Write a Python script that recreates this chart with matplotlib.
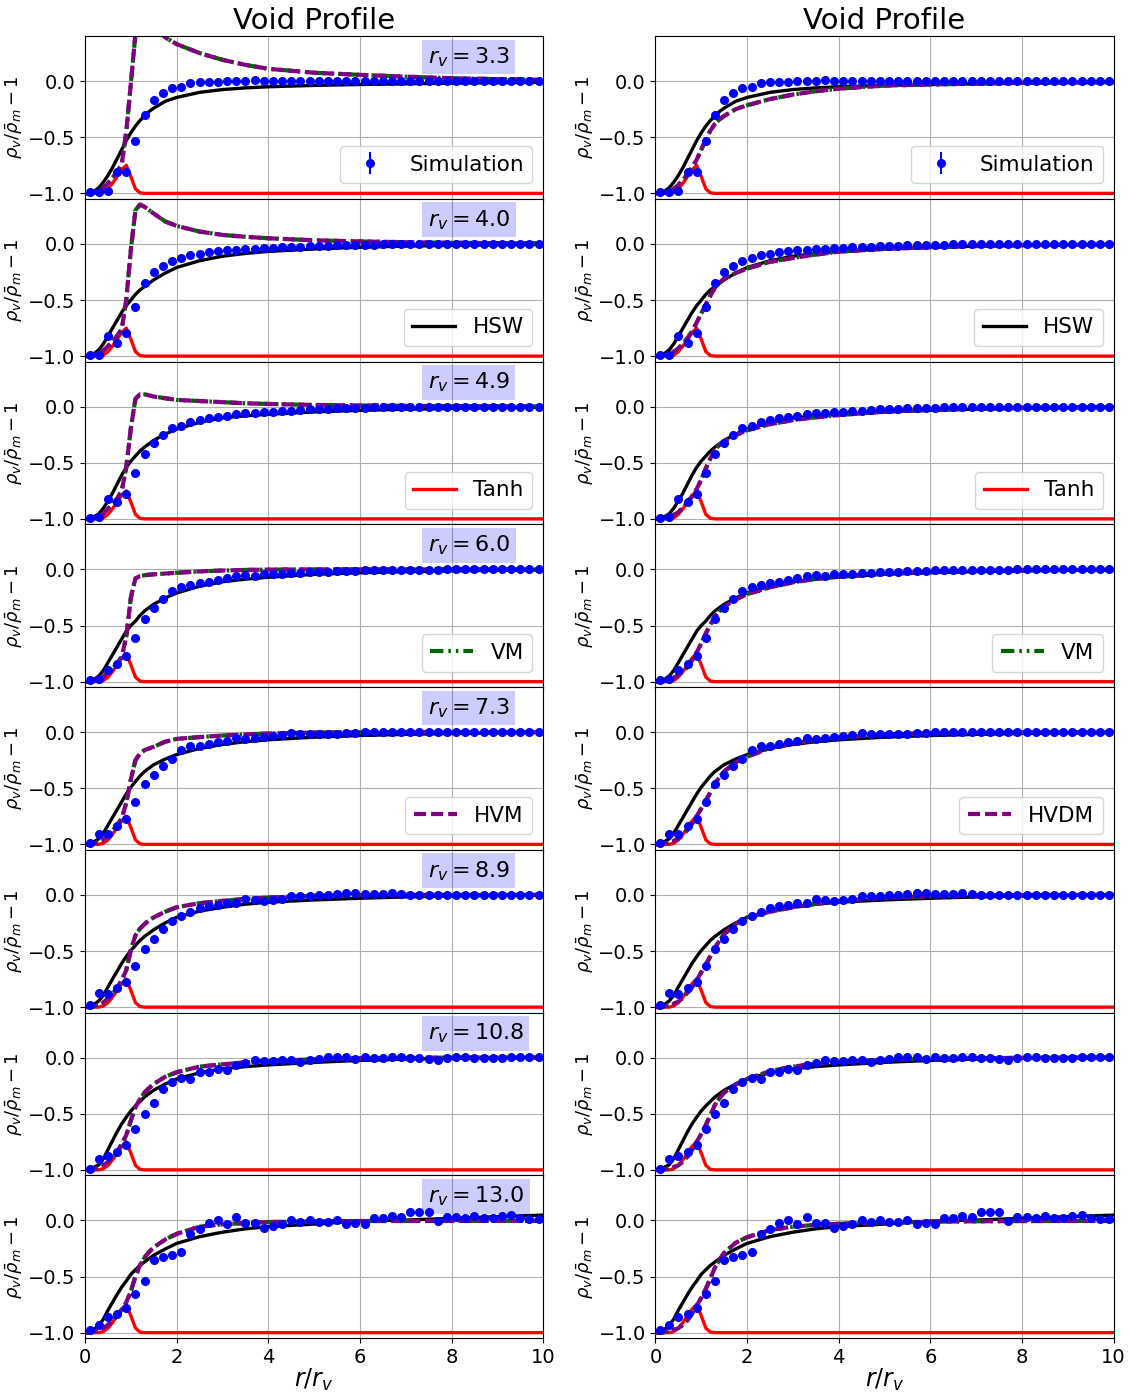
import matplotlib
matplotlib.use("Agg")
import matplotlib.pyplot as plt

# void radii, one per row
rv_values = [3.3, 4.0, 4.9, 6.0, 7.3, 8.9, 10.8, 13.0]

# radial bins of the simulation stack
r_sim = [0.1, 0.3, 0.5, 0.7, 0.9, 1.1, 1.3, 1.5, 1.7, 1.9,
         2.1, 2.3, 2.5, 2.7, 2.9, 3.1, 3.3, 3.5, 3.7, 3.9,
         4.1, 4.3, 4.5, 4.7, 4.9, 5.1, 5.3, 5.5, 5.7, 5.9,
         6.1, 6.3, 6.5, 6.7, 6.9, 7.1, 7.3, 7.5, 7.7, 7.9,
         8.1, 8.3, 8.5, 8.7, 8.9, 9.1, 9.3, 9.5, 9.7, 9.9]

# simulation density contrast, one list per void radius
sim_delta = [
    [-0.99, -0.985, -0.98, -0.81, -0.81, -0.53, -0.30, -0.17, -0.11, -0.065,
     -0.053, -0.02, -0.012, -0.01, -0.005, 0.0, 0.003, 0.005, 0.01, 0.003,
     0.0, 0.002, 0.0, 0.001, 0.0, 0.0, 0.001, 0.0, 0.0, 0.0,
     0.001, 0.0, 0.0, 0.0, 0.001, 0.0, 0.0, 0.001, 0.0, 0.0,
     0.0, 0.001, 0.0, 0.0, 0.0, 0.001, 0.0, 0.0, 0.0, 0.0],
    [-0.99, -0.99, -0.82, -0.88, -0.79, -0.56, -0.35, -0.25, -0.20, -0.156,
     -0.126, -0.10, -0.088, -0.074, -0.065, -0.056, -0.05, -0.044, -0.044, -0.04,
     -0.035, -0.03, -0.03, -0.025, -0.02, -0.018, -0.015, -0.013, -0.011, -0.009,
     -0.008, -0.006, -0.005, -0.004, -0.004, -0.003, -0.003, -0.002, -0.002, -0.002,
     -0.001, -0.001, -0.001, 0.0, 0.0, 0.0, 0.0, 0.0, 0.0, 0.0],
    [-0.99, -0.985, -0.82, -0.85, -0.78, -0.59, -0.42, -0.32, -0.25, -0.19,
     -0.17, -0.14, -0.12, -0.10, -0.09, -0.08, -0.07, -0.056, -0.056, -0.047,
     -0.044, -0.035, -0.035, -0.03, -0.02, -0.02, -0.017, -0.015, -0.012, -0.01,
     -0.008, -0.007, -0.006, -0.005, -0.004, -0.003, -0.003, -0.002, -0.002, -0.001,
     -0.001, 0.0, 0.0, 0.0, 0.0, 0.0, 0.0, 0.001, 0.0, 0.0],
    [-0.985, -0.98, -0.90, -0.84, -0.77, -0.61, -0.44, -0.34, -0.26, -0.19,
     -0.16, -0.14, -0.12, -0.11, -0.094, -0.08, -0.062, -0.05, -0.062, -0.044,
     -0.038, -0.038, -0.03, -0.03, -0.026, -0.022, -0.02, -0.015, -0.012, -0.01,
     -0.008, -0.006, -0.005, -0.004, -0.003, -0.002, -0.002, -0.001, -0.001, 0.0,
     0.0, 0.0, 0.0, 0.001, 0.0, 0.0, 0.0, 0.0, 0.001, 0.0],
    [-0.99, -0.91, -0.91, -0.84, -0.77, -0.62, -0.46, -0.38, -0.30, -0.235,
     -0.16, -0.12, -0.12, -0.106, -0.09, -0.08, -0.056, -0.06, -0.05, -0.044,
     -0.035, -0.026, -0.012, -0.018, -0.018, -0.015, -0.02, -0.015, -0.01, -0.005,
     -0.003, 0.0, 0.002, 0.0, 0.0, 0.003, 0.0, 0.002, 0.003, 0.0,
     0.0, 0.002, 0.0, 0.001, 0.0, 0.0, 0.002, 0.001, 0.0, 0.001],
    [-0.985, -0.876, -0.88, -0.83, -0.78, -0.63, -0.485, -0.39, -0.30, -0.235,
     -0.19, -0.15, -0.12, -0.10, -0.09, -0.076, -0.07, -0.04, -0.047, -0.053,
     -0.047, -0.04, -0.01, -0.01, -0.01, -0.005, 0.0, 0.01, 0.015, 0.015,
     0.01, 0.005, 0.01, 0.015, 0.005, 0.0, -0.005, -0.005, 0.0, 0.0,
     -0.002, -0.003, 0.0, -0.002, -0.003, -0.002, -0.003, -0.003, -0.005, -0.004],
    [-0.99, -0.906, -0.876, -0.84, -0.78, -0.64, -0.50, -0.40, -0.28, -0.22,
     -0.185, -0.19, -0.13, -0.126, -0.10, -0.11, -0.065, -0.044, -0.018, -0.03,
     -0.03, -0.018, -0.024, -0.035, -0.018, -0.01, 0.005, 0.01, 0.005, -0.01,
     0.01, 0.0, 0.0, 0.003, 0.005, 0.0, 0.0, -0.01, -0.018, -0.005,
     0.005, 0.003, 0.0, 0.0, -0.005, -0.005, 0.003, 0.005, 0.003, 0.003],
    [-0.976, -0.93, -0.864, -0.838, -0.78, -0.655, -0.54, -0.357, -0.33, -0.31,
     -0.283, -0.12, -0.074, -0.02, 0.003, -0.035, 0.03, -0.02, -0.027, -0.065,
     -0.053, -0.032, 0.003, -0.018, 0.003, -0.015, -0.012, 0.003, -0.036, -0.024,
     -0.033, 0.018, 0.018, 0.04, 0.027, 0.074, 0.071, 0.074, -0.003, 0.033,
     0.027, 0.02, 0.036, 0.024, 0.02, 0.039, 0.047, 0.02, 0.012, 0.009],
]

# radii at which the model curves were read
r_model = [0.0, 0.1, 0.2, 0.3, 0.4, 0.5, 0.6, 0.7, 0.8, 0.9, 1.0, 1.1, 1.2, 1.3,
           1.4, 1.5, 1.75, 2.0, 2.5, 3.0, 3.5, 4.0, 5.0, 6.0, 7.0, 8.0, 9.0, 10.0]

hsw_delta = [
    [-1, -0.995, -0.98, -0.95, -0.90, -0.84, -0.77, -0.69, -0.61, -0.53, -0.46, -0.40, -0.35, -0.31,
     -0.27, -0.24, -0.18, -0.145, -0.10, -0.075, -0.06, -0.05, -0.038, -0.03, -0.024, -0.018, -0.014, -0.01],
    [-1, -0.99, -0.975, -0.945, -0.89, -0.82, -0.75, -0.68, -0.61, -0.55, -0.50, -0.45, -0.41, -0.38,
     -0.35, -0.32, -0.26, -0.21, -0.15, -0.11, -0.085, -0.067, -0.045, -0.03, -0.02, -0.013, -0.008, -0.005],
    [-1, -0.995, -0.98, -0.955, -0.905, -0.84, -0.77, -0.69, -0.61, -0.54, -0.485, -0.44, -0.395, -0.36,
     -0.33, -0.30, -0.245, -0.20, -0.14, -0.10, -0.082, -0.068, -0.047, -0.033, -0.023, -0.016, -0.01, -0.006],
    [-1, -0.995, -0.98, -0.95, -0.90, -0.83, -0.76, -0.69, -0.62, -0.55, -0.50, -0.46, -0.41, -0.37,
     -0.34, -0.31, -0.255, -0.21, -0.15, -0.11, -0.087, -0.07, -0.044, -0.03, -0.02, -0.013, -0.008, -0.005],
    [-1, -0.99, -0.975, -0.95, -0.90, -0.83, -0.76, -0.69, -0.62, -0.55, -0.49, -0.44, -0.39, -0.35,
     -0.32, -0.29, -0.24, -0.20, -0.145, -0.11, -0.085, -0.068, -0.045, -0.03, -0.02, -0.012, -0.007, -0.003],
    [-1, -0.99, -0.975, -0.945, -0.895, -0.82, -0.75, -0.68, -0.61, -0.55, -0.495, -0.45, -0.405, -0.37,
     -0.34, -0.31, -0.25, -0.20, -0.145, -0.11, -0.083, -0.065, -0.045, -0.03, -0.018, -0.01, -0.005, 0.0],
    [-1, -0.99, -0.975, -0.955, -0.90, -0.82, -0.74, -0.66, -0.59, -0.53, -0.475, -0.43, -0.39, -0.35,
     -0.32, -0.29, -0.235, -0.19, -0.135, -0.10, -0.08, -0.065, -0.042, -0.025, -0.013, -0.005, 0.0, 0.003],
    [-1, -0.99, -0.97, -0.935, -0.88, -0.80, -0.73, -0.66, -0.595, -0.54, -0.48, -0.44, -0.40, -0.37,
     -0.34, -0.31, -0.255, -0.205, -0.145, -0.105, -0.075, -0.056, -0.033, -0.006, 0.003, 0.018, 0.033, 0.047],
]

tanh_delta = [-1, -1, -1, -1, -0.99, -0.96, -0.91, -0.85, -0.79, -0.75, -0.85, -0.96, -0.995, -1,
              -1, -1, -1, -1, -1, -1, -1, -1, -1, -1, -1, -1, -1, -1]

# VM / HVM curves, left column (with shell spike)
vm_left = [
    [-1, -1, -0.99, -0.975, -0.95, -0.91, -0.86, -0.81, -0.74, -0.45, -0.02, 0.42, 0.66, 0.62,
     0.56, 0.50, 0.39, 0.33, 0.25, 0.19, 0.145, 0.11, 0.075, 0.056, 0.04, 0.026, 0.018, 0.012],
    [-1, -1, -0.99, -0.975, -0.95, -0.91, -0.87, -0.82, -0.76, -0.50, -0.05, 0.30, 0.35, 0.33,
     0.30, 0.27, 0.20, 0.16, 0.11, 0.08, 0.063, 0.05, 0.032, 0.022, 0.015, 0.01, 0.007, 0.005],
    [-1, -1, -0.99, -0.98, -0.95, -0.91, -0.87, -0.82, -0.75, -0.54, -0.19, 0.07, 0.11, 0.11,
     0.10, 0.09, 0.075, 0.06, 0.05, 0.04, 0.03, 0.024, 0.015, 0.01, 0.007, 0.005, 0.003, 0.002],
    [-1, -1, -0.99, -0.98, -0.955, -0.915, -0.88, -0.84, -0.78, -0.60, -0.25, -0.08, -0.06, -0.052,
     -0.047, -0.044, -0.037, -0.03, -0.018, -0.01, -0.005, -0.002, 0, 0, 0, 0, 0, 0],
    [-1, -1, -0.99, -0.98, -0.96, -0.92, -0.88, -0.83, -0.77, -0.63, -0.42, -0.25, -0.19, -0.16,
     -0.145, -0.13, -0.085, -0.06, -0.044, -0.03, -0.02, -0.012, -0.004, -0.001, 0, 0, 0, 0],
    [-1, -1, -0.99, -0.98, -0.96, -0.92, -0.88, -0.83, -0.76, -0.67, -0.49, -0.36, -0.30, -0.26,
     -0.225, -0.20, -0.15, -0.11, -0.074, -0.053, -0.036, -0.024, -0.008, -0.002, 0, 0, 0, 0],
    [-1, -1, -0.99, -0.98, -0.96, -0.93, -0.89, -0.84, -0.77, -0.69, -0.56, -0.44, -0.37, -0.31,
     -0.27, -0.235, -0.17, -0.13, -0.08, -0.06, -0.042, -0.03, -0.015, -0.006, -0.002, 0, 0, 0],
    [-1, -1, -0.99, -0.98, -0.96, -0.93, -0.895, -0.85, -0.795, -0.73, -0.63, -0.50, -0.40, -0.33,
     -0.28, -0.24, -0.17, -0.12, -0.056, -0.035, -0.024, -0.015, -0.008, -0.006, -0.005, -0.005, -0.004, -0.004],
]

# VM / HVDM curves, right column
vm_right = [
    [-1, -1, -0.99, -0.98, -0.96, -0.925, -0.88, -0.83, -0.77, -0.70, -0.61, -0.52, -0.44, -0.38,
     -0.34, -0.31, -0.25, -0.215, -0.16, -0.12, -0.09, -0.067, -0.04, -0.03, -0.022, -0.015, -0.012, -0.01],
    [-1, -1, -0.99, -0.98, -0.96, -0.93, -0.89, -0.84, -0.78, -0.70, -0.62, -0.54, -0.46, -0.39,
     -0.345, -0.31, -0.26, -0.22, -0.16, -0.125, -0.095, -0.07, -0.045, -0.03, -0.02, -0.012, -0.008, -0.005],
    [-1, -1, -0.99, -0.98, -0.965, -0.94, -0.90, -0.85, -0.80, -0.735, -0.65, -0.55, -0.46, -0.38,
     -0.34, -0.31, -0.255, -0.21, -0.157, -0.12, -0.095, -0.075, -0.045, -0.028, -0.018, -0.01, -0.006, -0.004],
    [-1, -1, -0.99, -0.98, -0.965, -0.94, -0.91, -0.87, -0.81, -0.74, -0.66, -0.57, -0.49, -0.42,
     -0.37, -0.33, -0.27, -0.22, -0.16, -0.115, -0.085, -0.06, -0.037, -0.022, -0.013, -0.008, -0.005, -0.003],
    [-1, -1, -0.99, -0.985, -0.97, -0.95, -0.915, -0.87, -0.815, -0.75, -0.68, -0.61, -0.535, -0.46,
     -0.40, -0.35, -0.27, -0.22, -0.14, -0.10, -0.07, -0.05, -0.02, -0.01, -0.005, -0.002, 0, 0],
    [-1, -1, -0.99, -0.985, -0.97, -0.95, -0.915, -0.87, -0.82, -0.76, -0.69, -0.62, -0.545, -0.47,
     -0.405, -0.35, -0.26, -0.20, -0.15, -0.11, -0.08, -0.056, -0.026, -0.012, -0.005, -0.002, 0, 0],
    [-1, -1, -0.995, -0.985, -0.975, -0.96, -0.925, -0.88, -0.82, -0.75, -0.68, -0.60, -0.51, -0.42,
     -0.36, -0.31, -0.24, -0.19, -0.12, -0.08, -0.055, -0.037, -0.02, -0.01, -0.005, -0.002, 0, 0],
    [-1, -1, -0.995, -0.985, -0.975, -0.96, -0.93, -0.89, -0.83, -0.76, -0.69, -0.61, -0.515, -0.42,
     -0.35, -0.29, -0.20, -0.15, -0.086, -0.056, -0.04, -0.03, -0.02, -0.012, -0.008, -0.006, -0.005, -0.005],
]

fig, axes = plt.subplots(8, 2, figsize=(11.34, 13.94), dpi=100, sharex=True)
plt.subplots_adjust(left=0.075, right=0.982, top=0.974, bottom=0.040, hspace=0.0, wspace=0.245)

vm_dash = (0, (3.2, 1.2, 0.6, 1.2, 0.6, 1.2))
hvm_dash = (0, (2.9, 1.2))

for col in range(2):
    vm_curves = vm_left if col == 0 else vm_right
    hv_name = "HVM" if col == 0 else "HVDM"
    for row in range(8):
        ax = axes[row, col]
        lab = lambda name, k: name if row == k else None
        ax.plot(r_model, hsw_delta[row], color="black", lw=2.4, label=lab("HSW", 1))
        ax.plot(r_model, tanh_delta, color="red", lw=2.4, label=lab("Tanh", 2))
        ax.plot(r_model, vm_curves[row], color="darkgreen", lw=3, ls=vm_dash, label=lab("VM", 3))
        ax.plot(r_model, vm_curves[row], color="purple", lw=3, ls=hvm_dash, label=lab(hv_name, 4))
        ax.errorbar(r_sim, sim_delta[row], yerr=0.004, fmt="o", color="blue", ms=5.5,
                    zorder=5, label=lab("Simulation", 0))

        ax.set_xlim(0, 10)
        ax.set_ylim(-1.05, 0.4)
        ax.set_yticks([-1.0, -0.5, 0.0])
        ax.grid(True)
        ax.tick_params(labelsize=14)
        ax.set_ylabel(r"$\rho_v/\bar{\rho}_m-1$", fontsize=13, labelpad=2)

        if col == 0:
            ax.text(0.748, 0.872, r"$r_v=$" + str(rv_values[row]), transform=ax.transAxes,
                    fontsize=16, va="center", ha="left",
                    bbox=dict(facecolor="blue", alpha=0.2, edgecolor="none", pad=4))
        if row < 5:
            ax.legend(loc="lower right", bbox_to_anchor=(1.0, 0.03), fontsize=15.5)

    axes[0, col].set_title("Void Profile", fontsize=21, pad=5)
    axes[7, col].set_xlabel(r"$r/r_v$", fontsize=17, labelpad=0)
    axes[7, col].set_xticks([0, 2, 4, 6, 8, 10])

plt.savefig("out.png", dpi=100)
